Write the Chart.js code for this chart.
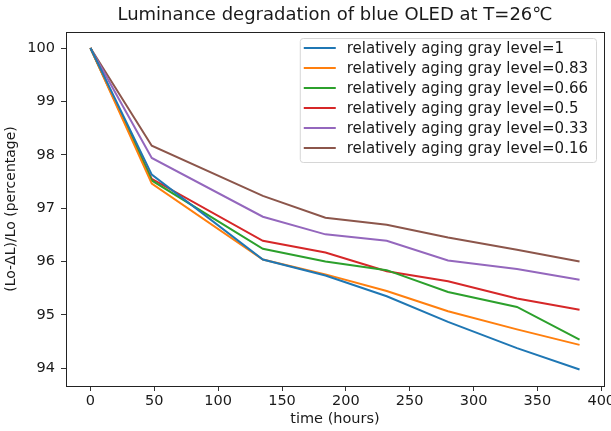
<!DOCTYPE html>
<html>
<head>
<meta charset="utf-8">
<title>Luminance degradation of blue OLED</title>
<script src="https://cdn.jsdelivr.net/npm/chart.js@4.4.0/dist/chart.umd.min.js"></script>
<style>
    html, body { margin: 0; padding: 0; background: #fff; overflow: hidden; }
    #wrap { position: relative; width: 640px; height: 431px; }
</style>
</head>
<body>
<div id="wrap"><canvas id="oledChart"></canvas></div>
<script>
// Chart data
const hours = [0, 48, 135, 184, 232, 280, 334, 383];
const grayLevels = ['1', '0.83', '0.66', '0.5', '0.33', '0.16'];
const level100 = [100, 97.63, 96.04, 95.74, 95.35, 94.87, 94.38, 93.98];
const level083 = [100, 97.46, 96.04, 95.76, 95.45, 95.07, 94.73, 94.44];
const level066 = [100, 97.52, 96.24, 96.00, 95.84, 95.43, 95.15, 94.54];
const level050 = [100, 97.55, 96.39, 96.17, 95.82, 95.63, 95.31, 95.10];
const level033 = [100, 97.94, 96.84, 96.51, 96.39, 96.02, 95.86, 95.66];
const level016 = [100, 98.17, 97.23, 96.82, 96.69, 96.45, 96.22, 96.00];
const xTicks = [0, 50, 100, 150, 200, 250, 300, 350, 400];
const yTicks = [94, 95, 96, 97, 98, 99, 100];

const seriesValues = [level100, level083, level066, level050, level033, level016];
const colors = ['#1f77b4', '#ff7f0e', '#2ca02c', '#d62728', '#9467bd', '#8c564b'];
const FONT = 'DejaVu Sans';

function buildDatasets() {
    return seriesValues.map((values, i) => ({
        label: `relatively aging gray level=${grayLevels[i]}`,
        data: values.map((v, j) => ({ x: hours[j], y: v })),
        borderColor: colors[i],
        backgroundColor: colors[i],
        borderWidth: 2,
        pointRadius: 0,
        tension: 0,
        fill: false
    }));
}

// Draw the box around the plot like matplotlib spines
const framePlugin = {
    id: 'frame',
    afterDatasetsDraw(chart) {
        const { ctx, chartArea: a } = chart;
        ctx.save();
        ctx.strokeStyle = '#222';
        ctx.lineWidth = 1;
        ctx.strokeRect(Math.round(a.left) + 0.5, Math.round(a.top) + 0.5,
            Math.round(a.right - a.left), Math.round(a.bottom - a.top));
        ctx.restore();
    }
};

// Legend drawn inside the plot, upper right
const insideLegend = {
    id: 'insideLegend',
    afterDraw(chart) {
        const { ctx, chartArea: a } = chart;
        const sets = chart.data.datasets;
        ctx.save();
        ctx.font = `15px "${FONT}"`;
        let maxW = 0;
        sets.forEach(ds => { maxW = Math.max(maxW, ctx.measureText(ds.label).width); });
        const rowH = 20;
        const boxW = 47 + maxW + 8;
        const boxH = rowH * (sets.length - 1) + 24;
        const right = a.right - 8;
        const left = right - boxW;
        const top = a.top + 6;

        ctx.beginPath();
        ctx.roundRect(left + 0.5, top + 0.5, boxW, boxH, 3);
        ctx.fillStyle = 'rgba(255,255,255,0.85)';
        ctx.fill();
        ctx.strokeStyle = '#d6d6d6';
        ctx.lineWidth = 1;
        ctx.stroke();

        ctx.textBaseline = 'middle';
        ctx.fillStyle = '#1a1a1a';
        sets.forEach((ds, i) => {
            const y = top + 10 + rowH * i;
            ctx.beginPath();
            ctx.strokeStyle = ds.borderColor;
            ctx.lineWidth = 2;
            ctx.moveTo(left + 4, y);
            ctx.lineTo(left + 36, y);
            ctx.stroke();
            ctx.fillText(ds.label, left + 47, y + 1);
        });
        ctx.restore();
    }
};

function initializeChart() {
    const ctx = document.getElementById('oledChart').getContext('2d');
    new Chart(ctx, {
        type: 'line',
        data: { datasets: buildDatasets() },
        options: {
            responsive: true,
            maintainAspectRatio: false,
            animation: false,
            layout: { padding: { left: 0, right: 36, top: 0, bottom: 0 } },
            plugins: {
                legend: { display: false },
                tooltip: { enabled: false },
                title: {
                    display: true,
                    fullSize: false,
                    text: 'Luminance degradation of blue OLED at T=26\u2103',
                    color: '#1a1a1a',
                    font: { family: FONT, size: 18, weight: 'normal' },
                    padding: { top: 5, bottom: 5.4 }
                }
            },
            scales: {
                x: {
                    type: 'linear',
                    min: -19.15,
                    max: 402.15,
                    afterBuildTicks: scale => { scale.ticks = xTicks.map(v => ({ value: v })); },
                    afterFit: scale => { scale.height = 45; },
                    grid: { drawOnChartArea: false, drawTicks: true, tickLength: 5, color: '#333' },
                    border: { display: false },
                    ticks: { color: '#1a1a1a', padding: 2, maxRotation: 0, font: { family: FONT, size: 14.5 } },
                    title: {
                        display: true,
                        text: 'time (hours)',
                        color: '#1a1a1a',
                        font: { family: FONT, size: 14.5 },
                        padding: { top: 0, bottom: 3 }
                    }
                },
                y: {
                    min: 93.67,
                    max: 100.3,
                    afterBuildTicks: scale => { scale.ticks = yTicks.map(v => ({ value: v })); },
                    afterFit: scale => { scale.width = 66; },
                    grid: { drawOnChartArea: false, drawTicks: true, tickLength: 5, color: '#333' },
                    border: { display: false },
                    ticks: { color: '#1a1a1a', padding: 6, font: { family: FONT, size: 14.5 } },
                    title: {
                        display: true,
                        text: '(Lo-\u0394L)/Lo (percentage)',
                        color: '#1a1a1a',
                        font: { family: FONT, size: 14 },
                        padding: { top: 3, bottom: 0 }
                    }
                }
            }
        },
        plugins: [framePlugin, insideLegend]
    });
}

document.addEventListener('DOMContentLoaded', initializeChart);
</script>
</body>
</html>
